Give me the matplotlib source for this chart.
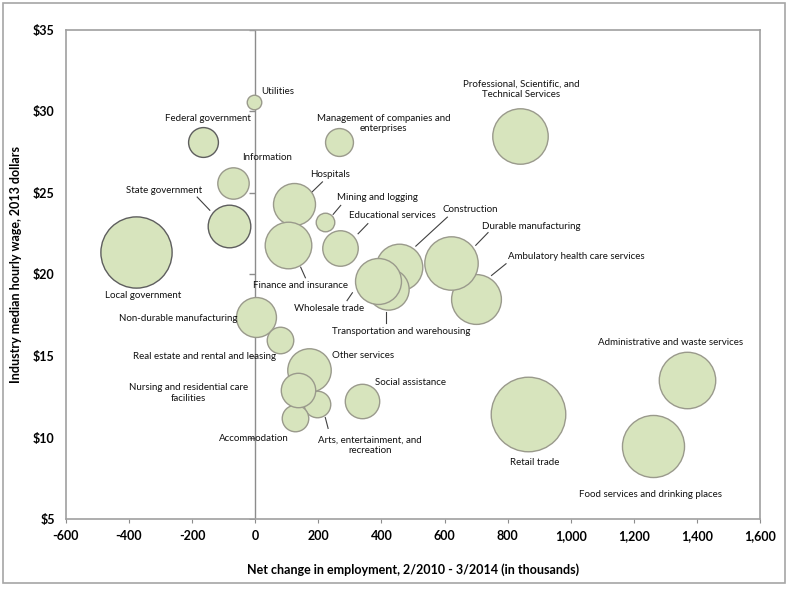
import numpy as np
import matplotlib
matplotlib.use("Agg")
import matplotlib.pyplot as plt
from matplotlib.patches import Rectangle

plt.rcParams['font.family'] = ['Lato', 'DejaVu Sans']

# data, in drawing order (later ones sit on top)
industries = ["Utilities", "Federal government", "Management of companies and\nenterprises",
              "Information", "State government", "Local government", "Hospitals",
              "Mining and logging", "Finance and insurance", "Educational services",
              "Construction", "Transportation and warehousing", "Wholesale trade",
              "Ambulatory health care services", "Durable manufacturing",
              "Professional, Scientific, and\nTechnical Services", "Non-durable manufacturing",
              "Real estate and rental and leasing", "Other services", "Arts, entertainment, and\nrecreation",
              "Accommodation", "Nursing and residential care\nfacilities", "Social assistance",
              "Administrative and waste services", "Retail trade", "Food services and drinking places"]
emp_change = [-5, -167, 266, -69, -83, -379, 122, 222, 105, 270,
              455, 420, 389, 701, 622, 838, 3, 80, 171, 196,
              125, 136, 337, 1370, 865, 1261]
wage = [30.6, 28.1, 28.1, 25.6, 23.0, 21.4, 24.3, 23.2, 21.8, 21.6,
        20.45, 19.1, 19.6, 18.5, 20.7, 28.5, 17.4, 16.0, 14.15, 12.06,
        11.2, 12.9, 12.26, 13.5, 11.44, 9.45]
employment = [0.57, 2.4, 2.1, 2.66, 4.9, 13.7, 4.76, 0.93, 5.86, 3.4,
              5.86, 4.6, 5.7, 6.7, 7.7, 8.3, 4.3, 1.9, 5.1, 1.9,
              1.9, 3.2, 3.2, 8.6, 15.0, 10.4]

x_ticks = np.arange(-600, 1601, 200)
y_ticks = np.arange(5, 36, 5)

# label placement: centre of text in data units
label_pos = {
    "Utilities": (70, 31.2),
    "Federal government": (-151, 29.57),
    "Management of companies and\nenterprises": (406, 29.28),
    "Information": (36, 27.15),
    "State government": (-289, 25.18),
    "Local government": (-354, 18.69),
    "Hospitals": (236, 26.15),
    "Mining and logging": (387, 24.74),
    "Finance and insurance": (142, 19.33),
    "Educational services": (434, 23.61),
    "Construction": (680, 24.0),
    "Transportation and warehousing": (462, 16.52),
    "Wholesale trade": (235, 17.9),
    "Ambulatory health care services": (1018, 21.11),
    "Durable manufacturing": (875, 22.97),
    "Professional, Scientific, and\nTechnical Services": (842, 31.33),
    "Non-durable manufacturing": (-245, 17.32),
    "Real estate and rental and leasing": (-162, 14.96),
    "Other services": (341, 15.02),
    "Arts, entertainment, and\nrecreation": (363, 9.52),
    "Accommodation": (-6, 9.97),
    "Nursing and residential care\nfacilities": (-212, 12.74),
    "Social assistance": (491, 13.35),
    "Administrative and waste services": (1315, 15.8),
    "Retail trade": (885, 8.45),
    "Food services and drinking places": (1254, 6.52),
}
leaders = {
    "State government": ((-184, 24.75), (-144, 23.94)),
    "Hospitals": ((213, 25.68), (180, 25.06)),
    "Mining and logging": ((271, 24.24), (247, 23.69)),
    "Educational services": ((357, 23.12), (326, 22.5)),
    "Construction": ((609, 23.52), (509, 21.74)),
    "Durable manufacturing": ((738, 22.57), (699, 21.79)),
    "Ambulatory health care services": ((795, 20.66), (749, 19.94)),
    "Finance and insurance": ((144, 20.45), (159, 19.8)),
    "Wholesale trade": ((291, 18.4), (308, 18.88)),
    "Transportation and warehousing": ((416, 17.69), (416, 17.01)),
    "Arts, entertainment, and\nrecreation": ((222, 11.23), (231, 10.56)),
}

fig = plt.figure(figsize=(7.9, 5.9), dpi=100)
fig.patches.append(Rectangle((0.004, 0.012), 0.99, 0.983, transform=fig.transFigure,
                             fill=False, edgecolor="#a6a6a6", linewidth=1.2))
ax = fig.add_axes([0.0835, 0.1203, 0.8785, 0.8289])

ax.axvline(0, color="#8c8c8c", linewidth=1.0, zorder=0)
ax.plot(np.zeros(len(y_ticks)), y_ticks, linestyle="none", marker=0, markersize=4,
        markeredgewidth=1.0, color="#8c8c8c", zorder=0)

for i, name in enumerate(industries):
    edge = "#5e5e5e" if "government" in name else "#9a9a8c"
    ax.scatter(emp_change[i], wage[i], s=employment[i] * 192, color="#d7e4bd",
               edgecolor=edge, linewidth=1.0, zorder=2 + i)

for name, (lx, ly) in label_pos.items():
    ax.text(lx, ly, name, ha="center", va="center", multialignment="center",
            fontsize=7, color="#111111", zorder=50)

for name, (p1, p2) in leaders.items():
    ax.plot([p1[0], p2[0]], [p1[1], p2[1]], color="#404040", linewidth=0.8, zorder=1)

ax.set_xlim(-600, 1600)
ax.set_ylim(5, 35)
ax.set_xticks(x_ticks)
ax.set_xticklabels([f"{v:,}" for v in x_ticks])
ax.set_yticks(y_ticks)
ax.set_yticklabels([f"${v}" for v in y_ticks])
ax.tick_params(axis="x", direction="out", length=3, color="#8c8c8c", labelsize=9, pad=5)
ax.tick_params(axis="y", length=0, labelsize=9, pad=8)
for lab in ax.get_xticklabels() + ax.get_yticklabels():
    lab.set_fontweight("bold")
for sp in ax.spines.values():
    sp.set_color("#a0a0a0")
    sp.set_linewidth(1.2)

ax.set_xlabel("Net change in employment, 2/2010 - 3/2014 (in thousands)",
              fontsize=9, fontweight="bold")
ax.set_ylabel("Industry median hourly wage, 2013 dollars",
              fontsize=9, fontweight="bold")
ax.xaxis.set_label_coords(0.5, -0.09)
ax.yaxis.set_label_coords(-0.0634, 0.52)

fig.savefig("out.png", dpi=100)
